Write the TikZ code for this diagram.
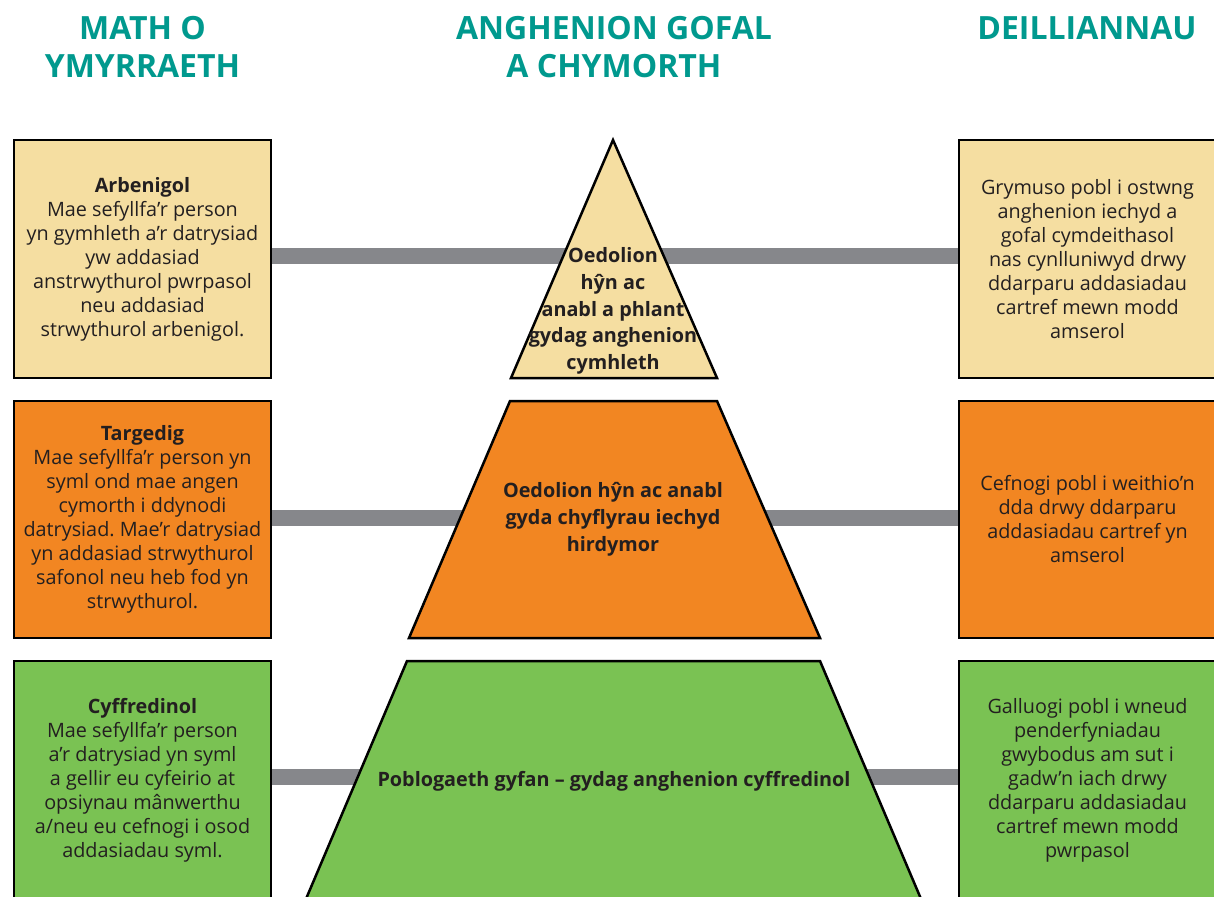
\documentclass[tikz,border=0pt]{standalone}
\usepackage{fontspec}
\setmainfont{Open Sans}
\frenchspacing
\definecolor{yel}{HTML}{F5DEA1}
\definecolor{org}{HTML}{F28622}
\definecolor{grn}{HTML}{7AC253}
\definecolor{tealh}{HTML}{00998E}
\definecolor{txt}{HTML}{231F20}
\definecolor{barc}{HTML}{86878B}
\tikzset{
  box/.style={draw=black, line width=2.5pt, minimum width=257pt, inner sep=0pt, align=center, text=txt, font=\fontsize{19.8}{24}\selectfont},
  head/.style={align=center, inner sep=0pt, text=tealh, font=\bfseries\fontsize{32}{38}\selectfont},
  bar/.style={draw=barc, line width=16pt},
  tier/.style={draw=black, line width=2.5pt, line join=miter},
  tiertext/.style={align=center, inner sep=0pt, text=txt, font=\bfseries\fontsize{19.8}{26.8}\selectfont}
}
\begin{document}
\begin{tikzpicture}[x=1pt,y=-1pt]
\useasboundingbox (0,0) rectangle (1214,896);
\clip (0,0) rectangle (1214,896);
\fill[white] (0,0) rectangle (1214,896);
% headers
\node[head] (h1) at (142.5,47) {MATH O\\YMYRRAETH};
\node[head] (h2) at (614,47) {ANGHENION GOFAL\\A CHYMORTH};
\node[head] (h3) at (1087,28) {DEILLIANNAU};
% left boxes
\node[box, fill=yel, minimum height=238pt] (l1) at (142.5,259) {\textbf{Arbenigol}\\Mae sefyllfa’r person\\yn gymhleth a’r datrysiad\\yw addasiad\\anstrwythurol pwrpasol\\neu addasiad\\strwythurol arbenigol.};
\node[box, fill=org, minimum height=237pt] (l2) at (142.5,519.5) {\textbf{Targedig}\\Mae sefyllfa’r person yn\\syml ond mae angen\\cymorth i ddynodi\\datrysiad. Mae’r datrysiad\\yn addasiad strwythurol\\safonol neu heb fod yn\\strwythurol.};
\node[box, fill=grn, minimum height=238pt] (l3) at (142.5,780) {\textbf{Cyffredinol}\\Mae sefyllfa’r person\\a’r datrysiad yn syml\\a gellir eu cyfeirio at\\opsiynau mânwerthu\\a/neu eu cefnogi i osod\\addasiadau syml.};
% right boxes
\node[box, fill=yel, minimum height=238pt] (r1) at (1087.5,259) {Grymuso pobl i ostwng\\anghenion iechyd a\\gofal cymdeithasol\\nas cynlluniwyd drwy\\ddarparu addasiadau\\cartref mewn modd\\amserol};
\node[box, fill=org, minimum height=237pt] (r2) at (1087.5,519.5) {Cefnogi pobl i weithio’n\\dda drwy ddarparu\\addasiadau cartref yn\\amserol};
\node[box, fill=grn, minimum height=238pt] (r3) at (1087.5,780) {Galluogi pobl i wneud\\penderfyniadau\\gwybodus am sut i\\gadw’n iach drwy\\ddarparu addasiadau\\cartref mewn modd\\pwrpasol};
% bars
\draw[bar] ([yshift=3pt]l1.east) -- ([yshift=3pt]r1.west);
\draw[bar] ([yshift=1.5pt]l2.east) -- ([yshift=1.5pt]r2.west);
\draw[bar] ([yshift=3pt]l3.east) -- ([yshift=3pt]r3.west);
% pyramid
\draw[tier, fill=yel] (613,140) -- (717,378) -- (511,378) -- cycle;
\draw[tier, fill=org] (510,401) -- (717,401) -- (820,638) -- (409,638) -- cycle;
\draw[tier, fill=grn] (407,661) -- (820,661) -- (924,906) -- (303,906) -- cycle;
\node[tiertext] (p1) at (613,311) {Oedolion\\hŷn ac\\anabl a phlant\\gydag anghenion\\cymhleth};
\node[tiertext] (p2) at (613,519.5) {Oedolion hŷn ac anabl\\gyda chyflyrau iechyd\\hirdymor};
\node[tiertext] (p3) at (614,781) {Poblogaeth gyfan – gydag anghenion cyffredinol};
\end{tikzpicture}
\end{document}
